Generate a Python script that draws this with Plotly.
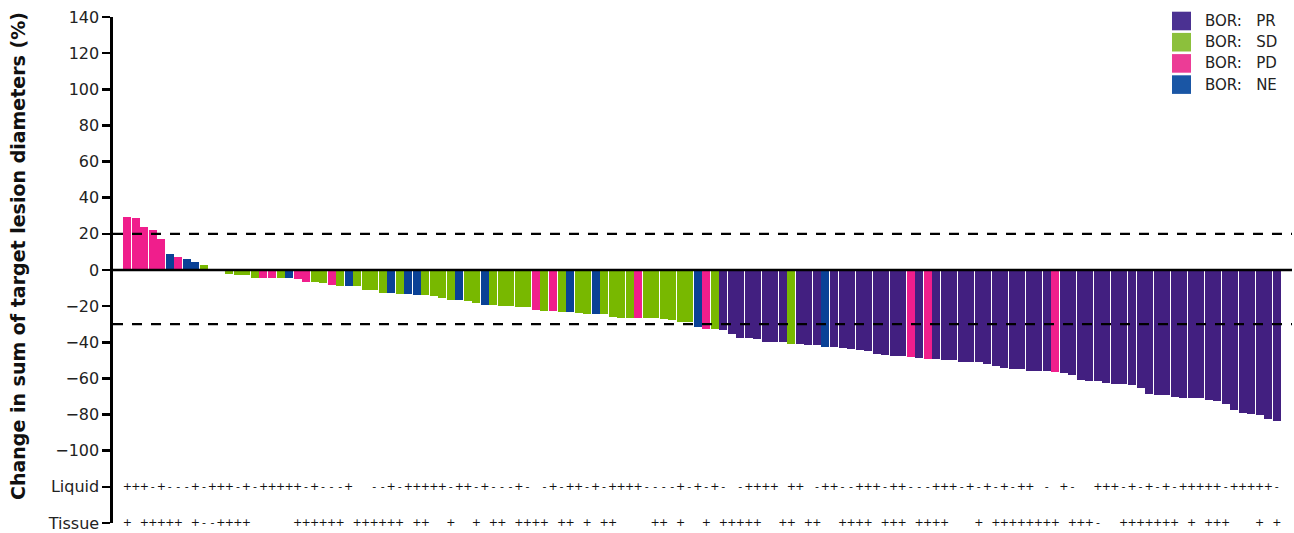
import plotly.graph_objects as go

# ---------------- data ----------------
change_pct = [
    29.2, 28.7, 23.7, 22.0, 17.0, 8.7, 7.1, 6.0, 4.3, 2.7,
    0.0, 0.0, -2.3, -2.9, -2.9, -4.5, -4.5, -4.5, -4.5, -4.5,
    -5.1, -6.7, -6.7, -7.3, -8.4, -9.0, -9.0, -9.0, -11.2, -11.2,
    -12.8, -12.8, -13.4, -13.4, -13.9, -13.9, -14.5, -15.6, -16.7, -16.7,
    -17.3, -18.4, -19.5, -19.5, -20.0, -20.0, -20.6, -20.6, -22.2, -22.8,
    -22.8, -23.4, -23.4, -23.9, -24.5, -24.5, -24.5, -26.1, -26.7, -26.7,
    -26.7, -26.7, -26.7, -27.2, -27.8, -28.9, -28.9, -31.5, -32.6, -32.6,
    -33.0, -35.3, -37.5, -37.5, -38.0, -39.7, -39.7, -39.7, -40.8, -40.8,
    -41.3, -41.3, -42.4, -42.4, -43.0, -43.5, -44.1, -44.6, -46.3, -46.8,
    -47.4, -47.4, -47.9, -48.5, -49.1, -49.1, -49.6, -49.6, -50.7, -50.7,
    -50.7, -51.8, -52.9, -54.0, -54.6, -54.6, -55.7, -55.7, -55.7, -56.2,
    -56.8, -57.9, -60.7, -61.2, -61.2, -62.3, -62.9, -62.9, -63.4, -65.1,
    -68.4, -68.9, -68.9, -70.0, -70.6, -70.6, -70.6, -71.7, -72.3, -73.9,
    -77.5, -79.1, -79.7, -80.2, -82.4, -83.6,
]

bor = [
    "PD", "PD", "PD", "PD", "PD", "NE", "PD", "NE", "NE", "SD",
    "SD", "SD", "SD", "SD", "SD", "SD", "PD", "PD", "SD", "NE",
    "PD", "PD", "SD", "SD", "PD", "SD", "NE", "SD", "SD", "SD",
    "SD", "NE", "SD", "NE", "NE", "SD", "SD", "SD", "SD", "NE",
    "SD", "SD", "NE", "SD", "SD", "SD", "SD", "SD", "PD", "SD",
    "PD", "SD", "NE", "SD", "SD", "NE", "SD", "SD", "SD", "SD",
    "PD", "SD", "SD", "SD", "SD", "SD", "SD", "NE", "PD", "SD",
    "PR", "PR", "PR", "PR", "PR", "PR", "PR", "PR", "SD", "PR",
    "PR", "PR", "NE", "PR", "PR", "PR", "PR", "PR", "PR", "PR",
    "PR", "PR", "PD", "PR", "PD", "PR", "PR", "PR", "PR", "PR",
    "PR", "PR", "PR", "PR", "PR", "PR", "PR", "PR", "PR", "PD",
    "PR", "PR", "PR", "PR", "PR", "PR", "PR", "PR", "PR", "PR",
    "PR", "PR", "PR", "PR", "PR", "PR", "PR", "PR", "PR", "PR",
    "PR", "PR", "PR", "PR", "PR", "PR",
]

# "+" / "-" marks per patient (" " = no sample)
liquid = list(
    "+++-+---+-+++-+-"
    "+++++-+---+"
    "  "
    "--+-+"
    "++++-++-+---+-"
    " "
    "-+-++-+-++++----+-+"
    "-+-"
    " "
    "-++++"
    " "
    "++"
    " "
    "-++--+++-++---+++-+-"
    "+-+-++"
    " "
    "-"
    " "
    "+-"
    "  "
    "+++-+-+-+-+++++-+++++-"
)
tissue = list(
    "+ +++++ +--++++     ++++++ ++++++ ++  +  + ++ ++++ ++ + ++    ++ +  + +++++  ++ ++  ++++ +++ ++++   + ++++++++ +++-  +++++++ + +++   + +"
)

categories = ["PR", "SD", "PD", "NE"]
bar_colors = {"PR": "#421F80", "SD": "#78B800", "PD": "#F01E8C", "NE": "#0A4196"}
legend_colors = {"PR": "#4B3192", "SD": "#8CC03C", "PD": "#EC3C96", "NE": "#1A56A5"}

y_tickvals = [-140, -120, -100, -80, -60, -40, -20, 0, 20, 40, 60, 80, 100, 120, 140]
y_ticktext = ["Tissue", "Liquid"] + [
    (f"\u2212{abs(v)}" if v < 0 else str(v)) for v in y_tickvals[2:]
]
y_title = "Change in sum of target lesion diameters (%)"

# ---------------- figure ----------------
W, H = 1294, 533
ML, MR, MT, MB = 113, 2, 17, 10
FONT = "DejaVu Sans, Verdana, sans-serif"

n = len(change_pct)
idx = list(range(n))

fig = go.Figure()
for cat in categories:
    xs = [i for i in idx if bor[i] == cat]
    ys = [change_pct[i] for i in xs]
    fig.add_trace(go.Bar(
        x=xs, y=ys, name=f"BOR:  {cat}", width=0.94,
        marker=dict(color=bar_colors[cat], line=dict(width=0)),
        showlegend=False,
    ))

def marks(row, yval, name):
    xs = [i for i in idx if row[i].strip()]
    fig.add_trace(go.Scatter(
        x=xs, y=[yval] * len(xs), text=[row[i] for i in xs], mode="text",
        textfont=dict(family=FONT, size=11, color="#111"),
        textposition="middle center", name=name, showlegend=False,
        hoverinfo="skip", cliponaxis=False,
    ))

marks(liquid, -120, "Liquid")
marks(tissue, -140, "Tissue")

shapes = [
    dict(type="line", xref="paper", yref="y", x0=0, x1=1, y0=20, y1=20,
         line=dict(color="black", width=2.2, dash="10px,9px")),
    dict(type="line", xref="paper", yref="y", x0=0, x1=1, y0=-30, y1=-30,
         line=dict(color="black", width=2.2, dash="10px,9px")),
    dict(type="line", xref="paper", yref="y", x0=0, x1=1, y0=0, y1=0,
         line=dict(color="black", width=2.6)),
]

# custom legend (square swatches like the reference)
pw, ph = W - ML - MR, H - MT - MB
def px_x(p):
    return (p - ML) / pw
def px_y(p):
    return (H - MB - p) / ph

annotations = []
for k, cat in enumerate(categories):
    cy = 21 + k * 21.2
    shapes.append(dict(
        type="rect", xref="paper", yref="paper",
        x0=px_x(1172), x1=px_x(1191), y0=px_y(cy + 9.3), y1=px_y(cy - 9.3),
        fillcolor=legend_colors[cat], line=dict(width=0), layer="above",
    ))
    annotations.append(dict(
        xref="paper", yref="paper", x=px_x(1203), y=px_y(cy),
        xanchor="left", yanchor="middle", showarrow=False,
        text=f"BOR:\u00a0\u00a0\u00a0{cat}",
        font=dict(family=FONT, size=15, color="#222"),
    ))

# y-axis title (placed like the reference, slightly above the plot centre)
annotations.append(dict(
    xref="paper", yref="paper", x=px_x(18), y=px_y(256),
    xanchor="center", yanchor="middle", showarrow=False, textangle=-90,
    text=f"<b>{y_title}</b>",
    font=dict(family=FONT, size=19, color="#111"),
))

fig.update_layout(
    width=W, height=H,
    margin=dict(l=ML, r=MR, t=MT, b=MB, pad=0),
    paper_bgcolor="white", plot_bgcolor="white",
    barmode="overlay", bargap=0,
    showlegend=False,
    font=dict(family=FONT, color="#222"),
    shapes=shapes, annotations=annotations,
    xaxis=dict(
        range=[-1.674, 136.79], showgrid=False, zeroline=False,
        showline=False, showticklabels=False, ticks="", fixedrange=True,
    ),
    yaxis=dict(
        range=[-140, 140], tickvals=y_tickvals, ticktext=y_ticktext,
        showgrid=False, zeroline=False, showline=True, linecolor="black",
        linewidth=2.6, ticks="outside", ticklen=8, tickwidth=2.6,
        tickcolor="black", tickfont=dict(family=FONT, size=16, color="#222"),
        automargin=False, fixedrange=True,
    ),
)

fig.write_html(
    "out.html",
    config={"displayModeBar": False, "staticPlot": True},
    post_script="document.body.style.margin='0px';document.body.style.overflow='hidden';",
)
